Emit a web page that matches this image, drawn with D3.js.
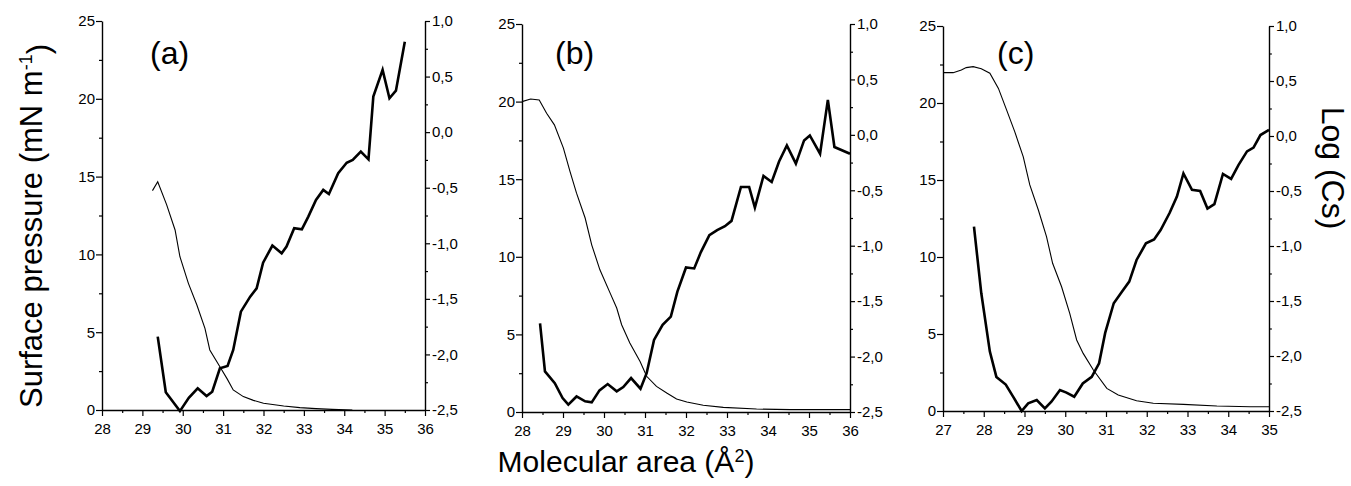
<!DOCTYPE html>
<html>
<head>
<meta charset="utf-8">
<script src="https://cdn.jsdelivr.net/npm/d3@7"></script>
<style>
  body { margin: 0; background: #fff; }
  svg { display: block; }
  text { font-family: 'Liberation Sans', Arial, sans-serif; fill: #000; }
  .tick text { font-size: 15px; }
</style>
</head>
<body>
<script>
var width = 1351;
var height = 486;

// panel (a)
var areaA_pi = [29.25, 29.38, 29.6, 29.81, 29.93, 30.14, 30.35, 30.55, 30.67, 30.92, 31.1, 31.25, 31.5, 31.75, 32.0, 32.5, 32.9, 33.3, 33.7, 34.2];
var piA = [14.1, 14.67, 13.2, 11.57, 9.85, 8.14, 6.75, 5.25, 3.86, 2.78, 2.0, 1.29, 0.86, 0.62, 0.43, 0.26, 0.15, 0.09, 0.04, 0.0];
var areaA_log = [29.38, 29.58, 29.93, 30.15, 30.37, 30.59, 30.73, 30.92, 31.11, 31.25, 31.44, 31.67, 31.83, 31.99, 32.22, 32.45, 32.57, 32.76, 32.95, 33.11, 33.3, 33.48, 33.62, 33.85, 34.06, 34.21, 34.41, 34.6, 34.72, 34.95, 35.12, 35.28, 35.5];
var logA = [-1.84, -2.34, -2.51, -2.39, -2.305, -2.374, -2.335, -2.125, -2.104, -1.96, -1.615, -1.48, -1.405, -1.175, -1.02, -1.09, -1.03, -0.865, -0.875, -0.76, -0.61, -0.52, -0.557, -0.37, -0.275, -0.25, -0.176, -0.245, 0.32, 0.56, 0.305, 0.373, 0.814];

// panel (b)
var areaB_pi = [28.0, 28.21, 28.42, 28.6, 28.79, 29.01, 29.17, 29.33, 29.54, 29.7, 29.9, 30.15, 30.31, 30.43, 30.63, 30.88, 31.04, 31.28, 31.53, 31.77, 32.02, 32.42, 32.91, 33.72, 34.54, 36.0];
var piB = [20.0, 20.17, 20.1, 19.25, 18.5, 17.0, 15.5, 14.1, 12.5, 10.77, 9.16, 7.66, 6.7, 5.62, 4.44, 3.26, 2.3, 1.65, 1.22, 0.84, 0.64, 0.43, 0.3, 0.19, 0.15, 0.15];
var areaB_log = [28.44, 28.56, 28.8, 28.99, 29.13, 29.33, 29.54, 29.7, 29.89, 30.09, 30.31, 30.47, 30.66, 30.89, 31.04, 31.22, 31.43, 31.63, 31.79, 32.0, 32.2, 32.36, 32.57, 32.76, 32.95, 33.11, 33.34, 33.54, 33.68, 33.89, 34.09, 34.27, 34.46, 34.68, 34.88, 35.02, 35.27, 35.46, 35.62, 36.0];
var logB = [-1.7, -2.134, -2.24, -2.374, -2.434, -2.36, -2.404, -2.413, -2.305, -2.248, -2.314, -2.275, -2.194, -2.29, -2.15, -1.85, -1.714, -1.64, -1.414, -1.196, -1.205, -1.06, -0.905, -0.86, -0.824, -0.776, -0.47, -0.47, -0.656, -0.37, -0.425, -0.24, -0.095, -0.26, -0.05, -0.005, -0.17, 0.316, -0.11, -0.17];

// panel (c)
var areaC_pi = [27.0, 27.25, 27.45, 27.57, 27.74, 27.94, 28.15, 28.36, 28.56, 28.76, 28.97, 29.13, 29.34, 29.54, 29.69, 29.91, 30.11, 30.28, 30.44, 30.69, 31.02, 31.3, 31.75, 32.16, 32.9, 33.72, 34.54, 35.0];
var piC = [21.97, 21.97, 22.14, 22.3, 22.36, 22.23, 21.93, 20.95, 19.55, 18.14, 16.5, 14.68, 13.05, 11.32, 9.59, 8.07, 6.34, 4.61, 3.74, 2.66, 1.47, 1.04, 0.67, 0.5, 0.43, 0.32, 0.28, 0.28];
var areaC_log = [27.76, 27.94, 28.15, 28.31, 28.54, 28.72, 28.93, 29.09, 29.3, 29.5, 29.66, 29.87, 30.03, 30.22, 30.43, 30.65, 30.83, 30.98, 31.19, 31.39, 31.57, 31.75, 31.98, 32.18, 32.34, 32.56, 32.74, 32.9, 33.11, 33.31, 33.49, 33.66, 33.87, 34.07, 34.25, 34.46, 34.62, 34.79, 35.0];
var logC = [-0.824, -1.43, -1.96, -2.19, -2.26, -2.37, -2.5, -2.43, -2.4, -2.476, -2.415, -2.31, -2.333, -2.37, -2.25, -2.19, -2.067, -1.79, -1.52, -1.415, -1.324, -1.127, -0.976, -0.94, -0.855, -0.7, -0.55, -0.34, -0.49, -0.5, -0.66, -0.62, -0.345, -0.39, -0.264, -0.14, -0.106, 0.009, 0.055];

// tick labels
var piTicks = [0, 5, 10, 15, 20, 25];
var logTicks = [-2.5, -2.0, -1.5, -1.0, -0.5, 0.0, 0.5, 1.0];
var panelLabels = ['(a)', '(b)', '(c)'];

var panels = [
  { label: panelLabels[0], left: 102, right: 425, top: 21, bottom: 410, xDomain: [28, 36],
    piX: areaA_pi, piY: piA, logX: areaA_log, logY: logA, labelX: 150 },
  { label: panelLabels[1], left: 522, right: 850, top: 24, bottom: 412, xDomain: [28, 36],
    piX: areaB_pi, piY: piB, logX: areaB_log, logY: logB, labelX: 555 },
  { label: panelLabels[2], left: 943, right: 1269, top: 26, bottom: 411, xDomain: [27, 35],
    piX: areaC_pi, piY: piC, logX: areaC_log, logY: logC, labelX: 997 }
];

var svg = d3.select('body')
  .append('svg')
  .attr('width', width)
  .attr('height', height);

function comma(d) {
  return d3.format('.1f')(d).replace('.', ',').replace('\u2212', '-');
}

function range(a, b, step) {
  var out = [];
  for (var v = a; v <= b + 1e-9; v += step) out.push(+v.toFixed(3));
  return out;
}

panels.forEach(function(p) {
  var x = d3.scaleLinear().domain(p.xDomain).range([p.left, p.right]);
  var yL = d3.scaleLinear().domain([0, 25]).range([p.bottom, p.top]);
  var yR = d3.scaleLinear().domain([-2.5, 1.0]).range([p.bottom, p.top]);

  var g = svg.append('g');

  // minor ticks
  g.append('g')
    .attr('class', 'minor')
    .attr('transform', 'translate(' + p.left + ',0)')
    .call(d3.axisLeft(yL).tickValues(range(2.5, 22.5, 5)).tickSize(3).tickFormat(''));
  g.append('g')
    .attr('class', 'minor')
    .attr('transform', 'translate(' + p.right + ',0)')
    .call(d3.axisRight(yR).tickValues(range(-2.25, 0.75, 0.5)).tickSize(3).tickFormat(''));
  g.append('g')
    .attr('class', 'minor')
    .attr('transform', 'translate(0,' + p.bottom + ')')
    .call(d3.axisBottom(x).tickValues(range(p.xDomain[0] + 0.5, p.xDomain[1] - 0.5, 1)).tickSize(3).tickFormat(''));

  // major axes
  g.append('g')
    .attr('transform', 'translate(' + p.left + ',0)')
    .call(d3.axisLeft(yL).tickValues(piTicks).tickSize(6).tickSizeOuter(0).tickPadding(1));
  g.append('g')
    .attr('transform', 'translate(' + p.right + ',0)')
    .call(d3.axisRight(yR).tickValues(logTicks).tickSize(5).tickSizeOuter(0).tickPadding(2).tickFormat(comma));
  g.append('g')
    .attr('transform', 'translate(0,' + p.bottom + ')')
    .call(d3.axisBottom(x).tickValues(range(p.xDomain[0], p.xDomain[1], 1)).tickSize(6).tickSizeOuter(0).tickPadding(7));

  g.selectAll('.minor .domain').remove();
  g.selectAll('.domain').attr('stroke-width', 1.4);
  g.selectAll('.tick line').attr('stroke-width', 1.2);

  // surface pressure (thin)
  var piLine = d3.line()
    .x(function(d) { return x(d[0]); })
    .y(function(d) { return yL(d[1]); });
  g.append('path')
    .datum(d3.zip(p.piX, p.piY))
    .attr('d', piLine)
    .attr('fill', 'none')
    .attr('stroke', '#000')
    .attr('stroke-width', 1.1);

  // log(Cs) (thick)
  var logLine = d3.line()
    .x(function(d) { return x(d[0]); })
    .y(function(d) { return yR(d[1]); });
  g.append('path')
    .datum(d3.zip(p.logX, p.logY))
    .attr('d', logLine)
    .attr('fill', 'none')
    .attr('stroke', '#000')
    .attr('stroke-width', 2.6)
    .attr('stroke-linejoin', 'miter');

  g.append('text')
    .attr('x', p.labelX)
    .attr('y', 64)
    .attr('font-size', '32px')
    .text(p.label);
});

// axis titles
var yTitle = svg.append('text')
  .attr('transform', 'translate(42,226) rotate(-90)')
  .attr('text-anchor', 'middle')
  .attr('font-size', '31px');
yTitle.append('tspan').text('Surface pressure (mN m');
yTitle.append('tspan').attr('dy', '-0.55em').attr('font-size', '18px').text('-1');
yTitle.append('tspan').attr('dy', '0.55em').text(')');

svg.append('text')
  .attr('transform', 'translate(1322,168) rotate(90)')
  .attr('text-anchor', 'middle')
  .attr('font-size', '32px')
  .text('Log (Cs)');

var xTitle = svg.append('text')
  .attr('x', 626)
  .attr('y', 472)
  .attr('text-anchor', 'middle')
  .attr('font-size', '30px');
xTitle.append('tspan').text('Molecular area (\u00C5');
xTitle.append('tspan').attr('dy', '-0.55em').attr('font-size', '18px').text('2');
xTitle.append('tspan').attr('dy', '9.9').text(')');
</script>
</body>
</html>
